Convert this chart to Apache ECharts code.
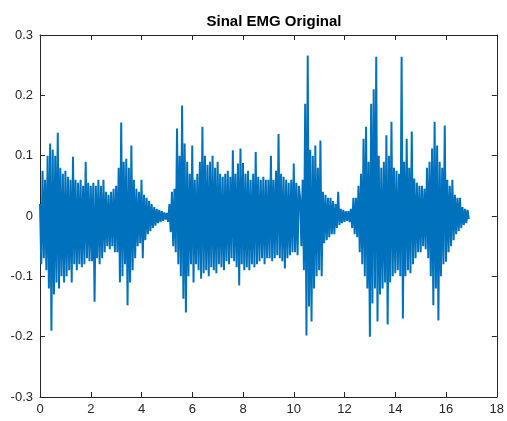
<!DOCTYPE html>
<html>
<head>
<meta charset="utf-8">
<title>Sinal EMG Original</title>
<script src="https://cdn.jsdelivr.net/npm/echarts@6/dist/echarts.min.js"></script>
<style>
  html, body { margin: 0; padding: 0; background: #fff; }
  #chart { width: 507px; height: 421px; }
</style>
</head>
<body>
<div id="chart"></div>
<script>
// sinal, uma amostra a cada 0.05 s (t = 0 ... 16.9 s)
const sampleStep = 0.05
const emg = [
  // 0 s
  0.02, -0.08, 0.075, -0.07, 0.06, -0.09, 0.1, -0.12, 0.12, -0.19,
  0.11, -0.13, 0.1, -0.11, 0.138, -0.12, 0.08, -0.1, 0.07, -0.11,
  // 1 s
  0.075, -0.1, 0.065, -0.09, 0.06, -0.11, 0.098, -0.08, 0.06, -0.09,
  0.055, -0.08, 0.06, -0.085, 0.05, -0.08, 0.09, -0.07, 0.055, -0.075,
  // 2 s
  0.05, -0.075, 0.055, -0.142, 0.05, -0.07, 0.06, -0.08, 0.05, -0.07,
  0.06, -0.06, 0.04, -0.05, 0.035, -0.055, 0.04, -0.05, 0.045, -0.06,
  // 3 s
  0.05, -0.06, 0.08, -0.11, 0.155, -0.1, 0.09, -0.08, 0.095, -0.148,
  0.08, -0.11, 0.117, -0.09, 0.06, -0.07, 0.045, -0.05, 0.04, -0.045,
  // 4 s
  0.06, -0.07, 0.035, -0.04, 0.03, -0.03, 0.025, -0.025, 0.02, -0.02,
  0.015, -0.016, 0.012, -0.012, 0.01, -0.01, 0.008, -0.008, 0.006, -0.006,
  // 5 s
  0.005, -0.01, 0.02, -0.027, 0.04, -0.05, 0.045, -0.06, 0.145, -0.08,
  0.1, -0.1, 0.183, -0.137, 0.12, -0.16, 0.09, -0.1, 0.07, -0.08,
  // 6 s
  0.117, -0.11, 0.06, -0.08, 0.07, -0.09, 0.09, -0.104, 0.148, -0.095,
  0.1, -0.09, 0.085, -0.1, 0.09, -0.085, 0.1, -0.09, 0.08, -0.095,
  // 7 s
  0.09, -0.08, 0.07, -0.085, 0.065, -0.09, 0.07, -0.075, 0.075, -0.08,
  0.065, -0.07, 0.109, -0.075, 0.07, -0.085, 0.087, -0.115, 0.112, -0.08,
  // 8 s
  0.088, -0.09, 0.07, -0.085, 0.075, -0.09, 0.06, -0.08, 0.07, -0.085,
  0.106, -0.08, 0.065, -0.075, 0.06, -0.07, 0.065, -0.08, 0.06, -0.07,
  // 9 s
  0.06, -0.07, 0.1, -0.075, 0.06, -0.07, 0.075, -0.065, 0.136, -0.07,
  0.07, -0.075, 0.065, -0.087, 0.06, -0.07, 0.055, -0.065, 0.06, -0.06,
  // 10 s
  0.087, -0.06, 0.055, -0.065, 0.05, 0.03, -0.05, 0.06, -0.09, 0.186,
  -0.198, 0.266, -0.15, 0.11, -0.175, 0.1, -0.12, 0.117, -0.1, 0.08,
  // 11 s
  -0.09, 0.125, -0.1, 0.04, -0.045, 0.035, -0.04, 0.03, -0.035, 0.03,
  -0.03, 0.025, -0.03, 0.02, -0.02, 0.04, -0.015, 0.012, -0.012, 0.01,
  // 12 s
  -0.01, 0.008, -0.008, 0.008, -0.01, 0.012, -0.02, 0.03, -0.03, 0.03,
  -0.035, 0.05, -0.06, 0.07, -0.08, 0.128, -0.1, 0.148, -0.12, 0.09,
  // 13 s
  -0.2, 0.186, -0.145, 0.21, -0.12, 0.264, -0.175, 0.1, -0.13, 0.08,
  -0.12, 0.09, -0.11, 0.134, -0.18, 0.1, -0.11, 0.156, -0.1, 0.08,
  // 14 s
  -0.095, 0.075, -0.09, 0.07, -0.1, 0.264, -0.17, 0.09, -0.1, 0.128,
  -0.09, 0.08, -0.095, 0.14, -0.08, 0.062, -0.07, 0.055, -0.06, 0.05,
  // 15 s
  -0.06, 0.05, -0.05, 0.045, -0.055, 0.08, -0.07, 0.09, -0.1, 0.112,
  -0.148, 0.156, -0.12, 0.117, -0.173, 0.09, -0.1, 0.08, -0.08, 0.15,
  // 16 s
  -0.076, 0.06, -0.06, 0.05, -0.05, 0.06, -0.04, 0.035, -0.03, 0.03,
  -0.025, 0.03, -0.02, 0.015, -0.015, 0.012, -0.012, 0.01, -0.005
]
const xTicks = [0, 2, 4, 6, 8, 10, 12, 14, 16, 18]
const yTicks = [-0.3, -0.2, -0.1, 0, 0.1, 0.2, 0.3]

const points = emg.map((v, i) => [i * sampleStep, v])

const chart = echarts.init(document.getElementById('chart'))
const axisColor = '#262626'
const labelFont = { color: axisColor, fontSize: 13, fontFamily: 'Liberation Sans, Arial, sans-serif' }
const boxAxis = {
  axisLine: { show: true, onZero: false, lineStyle: { color: axisColor, width: 1 } },
  axisTick: { show: true, inside: true, length: 5, lineStyle: { color: axisColor } },
  splitLine: { show: false }
}

chart.setOption({
  animation: false,
  title: {
    text: 'Sinal EMG Original',
    left: 269,
    top: 9,
    textAlign: 'center',
    textStyle: { fontSize: 15, fontWeight: 'bold', color: '#000', fontFamily: 'Liberation Sans, Arial, sans-serif' }
  },
  grid: { left: 40, right: 9, top: 35, bottom: 24 },
  xAxis: [
    Object.assign({
      type: 'value', min: xTicks[0], max: xTicks[xTicks.length - 1], interval: 2,
      axisLabel: Object.assign({ margin: 6 }, labelFont)
    }, boxAxis),
    Object.assign({
      type: 'value', position: 'top', min: xTicks[0], max: xTicks[xTicks.length - 1], interval: 2,
      axisLabel: { show: false }
    }, boxAxis)
  ],
  yAxis: [
    Object.assign({
      type: 'value', min: yTicks[0], max: yTicks[yTicks.length - 1], interval: 0.1,
      axisLabel: Object.assign({ margin: 7 }, labelFont)
    }, boxAxis),
    Object.assign({
      type: 'value', position: 'right', min: yTicks[0], max: yTicks[yTicks.length - 1], interval: 0.1,
      axisLabel: { show: false }
    }, boxAxis)
  ],
  series: [
    {
      type: 'line',
      data: points,
      showSymbol: false,
      sampling: null,
      lineStyle: { color: '#0072BD', width: 2 },
      emphasis: { disabled: true }
    }
  ]
})
</script>
</body>
</html>
